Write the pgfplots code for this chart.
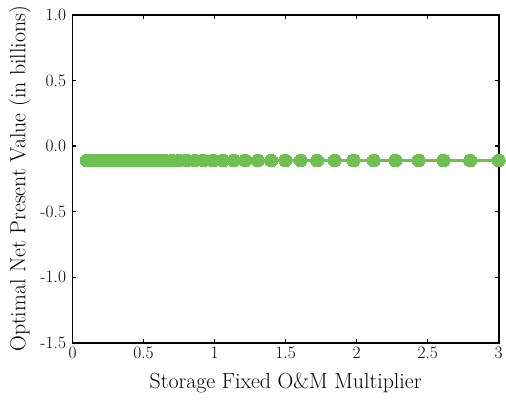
\documentclass[border=0pt]{standalone}
\usepackage{fontspec}
\usepackage{pgfplots}
\pgfplotsset{compat=1.18}

\definecolor{npvgreen}{RGB}{110,192,80}

\begin{document}
\begin{tikzpicture}
\begin{axis}[
  scale only axis,
  width=429pt, height=330pt,
  xmin=0, xmax=3, ymin=-1.5, ymax=1.0,
  xtick={0,0.5,1,1.5,2,2.5,3},
  xticklabels={0,0.5,1,1.5,2,2.5,3},
  ytick={-1.5,-1.0,-0.5,0,0.5,1.0},
  yticklabels={-1.5,-1.0,-0.5,0.0,0.5,1.0},
  tick align=inside,
  major tick length=4pt,
  tick style={line width=1.2pt, black},
  axis line style={line width=1.6pt},
  ticklabel style={font=\fontsize{17.5}{19}\selectfont},
  yticklabel style={xshift=-3pt},
  xticklabel style={yshift=-1pt},
  xlabel={Storage Fixed O\&M Multiplier},
  ylabel={Optimal Net Present Value (in billions)},
  every axis x label/.style={at={(axis description cs:0.5,0)}, yshift=-41pt,
    anchor=center, font=\fontsize{22}{24}\selectfont},
  every axis y label/.style={at={(axis description cs:0,0.5)}, xshift=-53pt,
    rotate=90, anchor=center, font=\fontsize{22}{24}\selectfont},
  clip=false,
]
\addplot[color=npvgreen, line width=2.5pt, mark=*, mark size=6.5pt,
         mark options={fill=npvgreen, draw=npvgreen, line width=0pt}]
  table[row sep=\\] {
  x y \\
  0.100000 -0.11 \\ 0.107188 -0.11 \\ 0.114893 -0.11 \\ 0.123151 -0.11 \\
  0.132003 -0.11 \\ 0.141491 -0.11 \\ 0.151662 -0.11 \\ 0.162563 -0.11 \\
  0.174248 -0.11 \\ 0.186773 -0.11 \\ 0.200198 -0.11 \\ 0.214588 -0.11 \\
  0.230012 -0.11 \\ 0.246545 -0.11 \\ 0.264267 -0.11 \\ 0.283262 -0.11 \\
  0.303623 -0.11 \\ 0.325447 -0.11 \\ 0.348840 -0.11 \\ 0.373914 -0.11 \\
  0.400790 -0.11 \\ 0.429598 -0.11 \\ 0.460477 -0.11 \\ 0.493576 -0.11 \\
  0.529054 -0.11 \\ 0.567081 -0.11 \\ 0.607843 -0.11 \\ 0.651534 -0.11 \\
  0.698365 -0.11 \\ 0.748563 -0.11 \\ 0.802368 -0.11 \\ 0.860042 -0.11 \\
  0.921861 -0.11 \\ 0.988124 -0.11 \\ 1.059148 -0.11 \\ 1.135278 -0.11 \\
  1.216880 -0.11 \\ 1.304347 -0.11 \\ 1.398101 -0.11 \\ 1.498593 -0.11 \\
  1.606310 -0.11 \\ 1.721768 -0.11 \\ 1.845525 -0.11 \\ 1.978179 -0.11 \\
  2.120368 -0.11 \\ 2.272777 -0.11 \\ 2.436141 -0.11 \\ 2.611247 -0.11 \\
  2.798939 -0.11 \\ 3.000000 -0.11 \\
  };
\end{axis}
% page frame around the axis
\path ([shift={(-73pt,-57pt)}]current axis.south west)
  rectangle ([shift={(4pt,15pt)}]current axis.north east);
\end{tikzpicture}
\end{document}
